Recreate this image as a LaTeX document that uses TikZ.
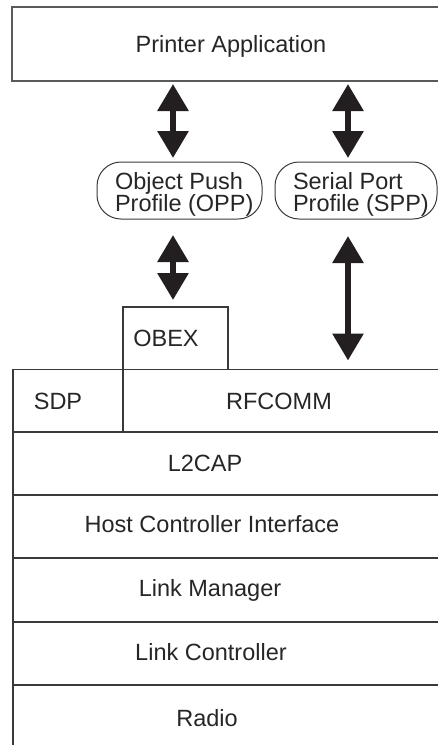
\documentclass[tikz,border=0pt]{standalone}
\usepackage{fontspec}
\setmainfont{Liberation Sans}
\usetikzlibrary{arrows.meta}
\definecolor{ln}{HTML}{3A3A3A}
\definecolor{appln}{HTML}{5A5A5A}
\definecolor{ar}{HTML}{231F20}
\begin{document}
\begin{tikzpicture}[x=1pt,y=-1pt,
  font=\fontsize{23.5}{23}\selectfont,
  cell/.style={draw=ln, line width=1.3pt, rectangle, inner sep=0pt, outer sep=0pt},
  lbl/.style={inner sep=0pt, outer sep=0pt, text height=16.8pt, text depth=0pt, text=black!85},
  ltxt/.style={inner sep=0pt, outer sep=0pt, anchor=base west, text=black!85},
  rbox/.style={draw=ln, line width=1pt, rounded corners=24pt, inner sep=0pt, outer sep=0pt},
  dblarrow/.style={{Triangle[width=30pt,length=27pt]}-{Triangle[width=30pt,length=27pt]}, line width=6pt, draw=ar, fill=ar}]
\useasboundingbox (0,0) rectangle (438,745);
\clip (0,0) rectangle (438,745);

% application
\node[cell, draw=appln, line width=2pt, minimum width=440pt, minimum height=74pt] (app) at (232,44) {};
\node[lbl] (appt) at (231,44) {Printer Application};

% profiles
\node[rbox, minimum width=165pt, minimum height=57pt] (opp) at (179.5,190.5) {};
\node[ltxt] (opp1) at (115,189.5) {Object Push};
\node[ltxt] (opp2) at (115,211.5) {Profile (OPP)};
\node[rbox, minimum width=162pt, minimum height=57pt] (spp) at (356,190.5) {};
\node[ltxt] (spp1) at (293,189.5) {Serial Port};
\node[ltxt] (spp2) at (293,211.5) {Profile (SPP)};

% stack
\node[cell, minimum width=105pt, minimum height=62.5pt] (obex) at (175.5,338.25) {};
\node[lbl] (obext) at (166,338.25) {OBEX};
\node[cell, minimum width=110pt, minimum height=62.5pt] (sdp) at (68,400.75) {};
\node[lbl] (sdpt) at (58,400.75) {SDP};
\node[cell, minimum width=337pt, minimum height=62.5pt] (rfcomm) at (291.5,400.75) {};
\node[lbl] (rfcommt) at (279,400.75) {RFCOMM};
\node[cell, minimum width=447pt, minimum height=63pt] (l2cap) at (236.5,463.5) {};
\node[lbl] (l2capt) at (205,463.5) {L2CAP};
\node[cell, minimum width=447pt, minimum height=63pt] (hci) at (236.5,526.5) {};
\node[lbl] (hcit) at (212,524) {Host Controller Interface};
\node[cell, minimum width=447pt, minimum height=64pt] (lm) at (236.5,590) {};
\node[lbl] (lmt) at (210,588) {Link Manager};
\node[cell, minimum width=447pt, minimum height=63pt] (lc) at (236.5,653.5) {};
\node[lbl] (lct) at (211,652) {Link Controller};
\node[cell, minimum width=447pt, minimum height=85pt] (radio) at (236.5,727.5) {};
\node[lbl] (radiot) at (207,718) {Radio};

% arrows
\coordinate (cL) at (173,0);
\coordinate (cR) at (348,0);
\draw[dblarrow, shorten <=3pt, shorten >=4pt] (app.south -| cL) -- (opp.north -| cL);
\draw[dblarrow, shorten <=3pt, shorten >=4pt] (app.south -| cR) -- (spp.north -| cR);
\draw[dblarrow, shorten <=16pt, shorten >=7pt] (opp.south -| cL) -- (obex.north -| cL);
\draw[dblarrow, shorten <=17pt, shorten >=9pt] (spp.south -| cR) -- (rfcomm.north -| cR);
\end{tikzpicture}
\end{document}
